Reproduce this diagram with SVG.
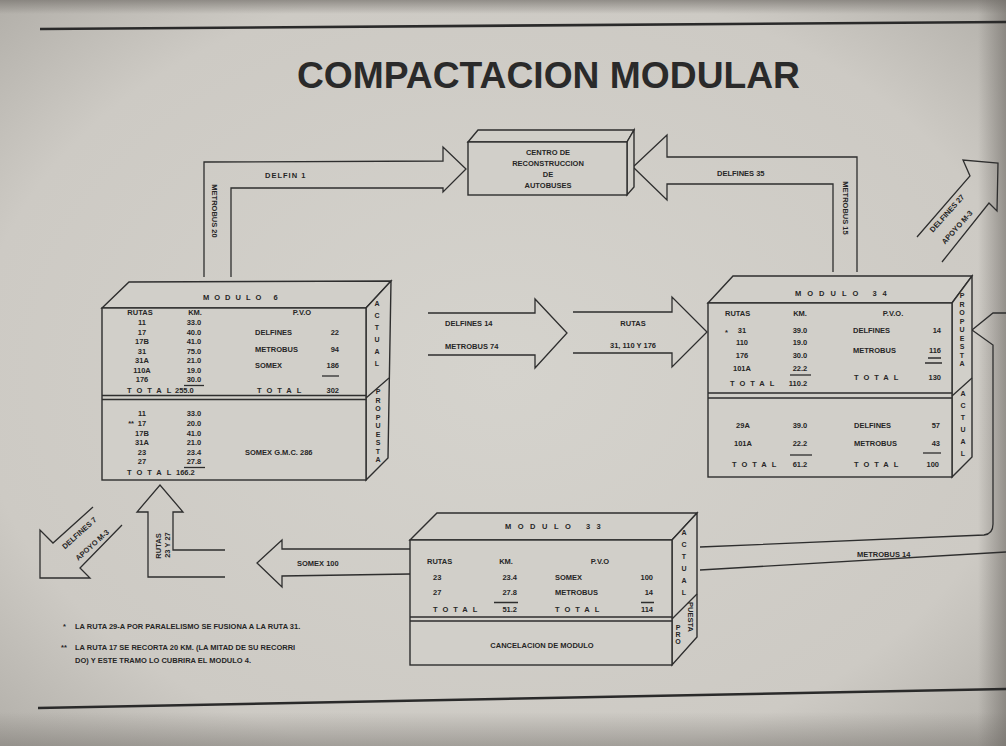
<svg xmlns="http://www.w3.org/2000/svg" width="1006" height="746" viewBox="0 0 1006 746">
<defs>
<radialGradient id="paper" cx="50%" cy="50%" r="70%">
<stop offset="0" stop-color="#d5d3cd"/>
<stop offset="0.75" stop-color="#cdcac4"/>
<stop offset="1" stop-color="#b3b0aa"/>
</radialGradient>
<linearGradient id="edgeR" x1="0" y1="0" x2="1" y2="0">
<stop offset="0" stop-color="#6f6b66" stop-opacity="0"/>
<stop offset="1" stop-color="#6f6b66" stop-opacity="0.6"/>
</linearGradient>
<linearGradient id="edgeT" x1="0" y1="0" x2="0" y2="1">
<stop offset="0" stop-color="#77736e" stop-opacity="0.7"/>
<stop offset="1" stop-color="#77736e" stop-opacity="0"/>
</linearGradient>
<linearGradient id="edgeB" x1="0" y1="0" x2="0" y2="1">
<stop offset="0" stop-color="#77736e" stop-opacity="0"/>
<stop offset="1" stop-color="#77736e" stop-opacity="0.5"/>
</linearGradient>
<style>
.ln{fill:none;stroke:#2e2e2e;stroke-width:1.3;stroke-linejoin:miter}
.face{fill:#d1cfc9;stroke:#2e2e2e;stroke-width:1.4;stroke-linejoin:miter}
.rule{fill:none;stroke:#2a2a2a;stroke-width:2.6}
.t{font-family:"Liberation Sans",Arial,sans-serif;font-size:7.5px;font-weight:bold;fill:#262626}
.s{font-family:"Liberation Sans",Arial,sans-serif;font-size:7px;font-weight:bold;fill:#262626;text-anchor:middle}
.m{text-anchor:middle}
.e{text-anchor:end}
.sp{letter-spacing:5px}
.ttl{font-family:"Liberation Sans",Arial,sans-serif;font-size:36px;font-weight:bold;fill:#2a2a2a}
</style>
</defs>
<rect x="0" y="0" width="1006" height="746" fill="url(#paper)"/>
<rect x="0" y="0" width="1006" height="14" fill="url(#edgeT)"/>
<rect x="0" y="712" width="1006" height="34" fill="url(#edgeB)"/>
<rect x="978" y="0" width="28" height="746" fill="url(#edgeR)"/>

<path class="rule" d="M40,29 L1006,22"/>
<path class="rule" d="M38,708 L1006,689"/>
<text class="ttl" x="297" y="88" textLength="503" lengthAdjust="spacingAndGlyphs">COMPACTACION MODULAR</text>

<g id="connectors">
<path class="ln" d="M204,277 L204,162 L443,161 L443,147 L466,169 L443,192 L443,188 L231,188 L231,277"/>
<text class="t" x="265" y="178" letter-spacing="1">DELFIN  1</text>
<text class="t m" transform="translate(212,211) rotate(90)">METROBUS  20</text>

<path class="ln" d="M833,272 L833,184 L667,184 L667,200 L633,167 L667,135 L667,157 L857,157 L857,272"/>
<text class="t" x="717" y="176">DELFINES  35</text>
<text class="t m" transform="translate(843,208) rotate(90)">METROBUS  15</text>

<path class="ln" d="M917,237 L970,176 L963,160 L998,163 L997,211 L989,203 L942,262"/>
<text class="t m" transform="translate(949,215) rotate(-48)" font-size="6.5">DELFINES  27</text>
<text class="t m" transform="translate(959,229) rotate(-48)" font-size="6.5">APOYO M-3</text>

<path class="ln" d="M428,313 L535,313 L535,299 L567,333 L535,368 L535,355 L428,355"/>
<text class="t" x="445" y="326">DELFINES  14</text>
<text class="t" x="445" y="349">METROBUS  74</text>

<path class="ln" d="M573,312 L672,312 L672,297 L707,332 L672,367 L672,353 L573,353"/>
<text class="t m" x="633" y="326">RUTAS</text>
<text class="t m" x="633" y="348">31,  110 Y 176</text>

<path class="ln" d="M225,550 L173,550 L173,512 L183,512 L160,485 L137,512 L148,512 L148,577 L225,577"/>
<text class="t m" transform="translate(161,546) rotate(-90)">RUTAS</text>
<text class="t m" transform="translate(170,545) rotate(-90)" font-size="6.5">23 Y 27</text>

<path class="ln" d="M93,507 L53,543 L40,530 L40,578 L90,578 L80,568 L122,525"/>
<text class="t m" transform="translate(81,535) rotate(-42)" font-size="6.5">DELFINES  7</text>
<text class="t m" transform="translate(94,547) rotate(-42)" font-size="6.5">APOYO M-3</text>

<path class="ln" d="M410,549 L282,549 L282,540 L257,563 L282,587 L282,576 L410,574"/>
<text class="t" x="297" y="566">SOMEX  100</text>

<path class="ln" d="M700,547 L984,535 Q993,534 993,524 L993,345 L972,330 L993,313 L1006,313"/>
<path class="ln" d="M700,570 L1006,552"/>
<text class="t" x="857" y="557" font-size="6.5">METROBUS  14</text>
</g>

<g id="node-centro">
<polygon class="face" points="468,142 478,130 634,130 627,142"/>
<polygon class="face" points="627,142 634,130 634,187 627,195"/>
<rect class="face" x="468" y="142" width="159" height="53"/>
<text class="t m" x="548" y="155" font-size="7">CENTRO DE</text>
<text class="t m" x="548" y="166" font-size="7">RECONSTRUCCION</text>
<text class="t m" x="548" y="177" font-size="7">DE</text>
<text class="t m" x="548" y="188" font-size="7">AUTOBUSES</text>
</g>

<g id="node-modulo6">
<polygon class="face" points="102,308 129,282 391,281 366,308"/>
<polygon class="face" points="366,308 391,281 388,458 366,480"/>
<rect class="face" x="102" y="308" width="264" height="172"/>
<path class="ln" d="M102,395.5 L366,395.5 M102,399.5 L366,399.5 M366,398 L389,378"/>
<text class="t sp" x="203" y="300">MODULO 6</text>
<text class="t m" x="140" y="315">RUTAS</text>
<text class="t m" x="195" y="315">KM.</text>
<text class="t m" x="302" y="315">P.V.O</text>
<text class="t m" x="142" y="325">11</text>
<text class="t m" x="142" y="334.5">17</text>
<text class="t m" x="142" y="344">17B</text>
<text class="t m" x="142" y="353.5">31</text>
<text class="t m" x="142" y="363">31A</text>
<text class="t m" x="142" y="372.5">110A</text>
<text class="t m" x="142" y="382">176</text>
<text class="t m" x="194" y="325">33.0</text>
<text class="t m" x="194" y="334.5">40.0</text>
<text class="t m" x="194" y="344">41.0</text>
<text class="t m" x="194" y="353.5">75.0</text>
<text class="t m" x="194" y="363">21.0</text>
<text class="t m" x="194" y="372.5">19.0</text>
<text class="t m" x="194" y="382">30.0</text>
<path class="ln" d="M184,385.5 L204,385.5"/>
<text class="t sp" x="127" y="393">TOTAL</text>
<text class="t" x="175" y="393">255.0</text>
<text class="t" x="255" y="335">DELFINES</text>
<text class="t e" x="339" y="335">22</text>
<text class="t" x="255" y="352">METROBUS</text>
<text class="t e" x="339" y="352">94</text>
<text class="t" x="255" y="368">SOMEX</text>
<text class="t e" x="339" y="368">186</text>
<path class="ln" d="M322,376 L339,376"/>
<text class="t sp" x="257" y="393">TOTAL</text>
<text class="t e" x="339" y="393">302</text>
<text class="s" x="377" y="306">A</text>
<text class="s" x="377" y="318">C</text>
<text class="s" x="377" y="330">T</text>
<text class="s" x="377" y="342">U</text>
<text class="s" x="377" y="354">A</text>
<text class="s" x="377" y="366">L</text>
<text class="s" x="378" y="394">P</text>
<text class="s" x="378" y="402.5">R</text>
<text class="s" x="378" y="411">O</text>
<text class="s" x="378" y="419.5">P</text>
<text class="s" x="378" y="428">U</text>
<text class="s" x="378" y="436.5">E</text>
<text class="s" x="378" y="445">S</text>
<text class="s" x="378" y="453.5">T</text>
<text class="s" x="378" y="462">A</text>
<text class="t m" x="142" y="416">11</text>
<text class="t e" x="134" y="426">**</text>
<text class="t m" x="142" y="426">17</text>
<text class="t m" x="142" y="435.5">17B</text>
<text class="t m" x="142" y="445">31A</text>
<text class="t m" x="142" y="455">23</text>
<text class="t m" x="142" y="464">27</text>
<text class="t m" x="194" y="416">33.0</text>
<text class="t m" x="194" y="426">20.0</text>
<text class="t m" x="194" y="435.5">41.0</text>
<text class="t m" x="194" y="445">21.0</text>
<text class="t m" x="194" y="455">23.4</text>
<text class="t m" x="194" y="464">27.8</text>
<path class="ln" d="M184,467.5 L205,467.5"/>
<text class="t sp" x="127" y="475">TOTAL</text>
<text class="t" x="176" y="475">166.2</text>
<text class="t" x="245" y="455">SOMEX G.M.C.  286</text>
</g>

<g id="node-modulo34">
<polygon class="face" points="708,303 733,276 972,276 952,303"/>
<polygon class="face" points="952,303 972,276 972,457 952,477"/>
<rect class="face" x="708" y="303" width="244" height="174"/>
<path class="ln" d="M708,393 L952,393 M708,398 L952,398 M952,396 L972,378"/>
<text class="t" x="795" y="296" letter-spacing="6">MODULO 34</text>
<text class="t" x="725" y="316">RUTAS</text>
<text class="t m" x="800" y="316">KM.</text>
<text class="t m" x="893" y="316">P.V.O.</text>
<text class="t" x="725" y="335">*</text>
<text class="t m" x="742" y="333">31</text>
<text class="t m" x="742" y="345">110</text>
<text class="t m" x="742" y="358">176</text>
<text class="t m" x="742" y="371">101A</text>
<text class="t m" x="800" y="333">39.0</text>
<text class="t m" x="800" y="345">19.0</text>
<text class="t m" x="800" y="358">30.0</text>
<text class="t m" x="800" y="371">22.2</text>
<path class="ln" d="M790,375 L811,375"/>
<text class="t sp" x="730" y="386">TOTAL</text>
<text class="t m" x="798" y="386">110.2</text>
<text class="t" x="853" y="333">DELFINES</text>
<text class="t e" x="941" y="333">14</text>
<text class="t" x="853" y="353">METROBUS</text>
<text class="t e" x="941" y="353">116</text>
<path class="ln" d="M928,358 L941,358 M925,363 L942,363"/>
<text class="t sp" x="854" y="380">TOTAL</text>
<text class="t e" x="941" y="380">130</text>
<text class="s" x="962" y="298" font-size="6.5">P</text>
<text class="s" x="962" y="306.5" font-size="6.5">R</text>
<text class="s" x="962" y="315" font-size="6.5">O</text>
<text class="s" x="962" y="323.5" font-size="6.5">P</text>
<text class="s" x="962" y="332" font-size="6.5">U</text>
<text class="s" x="962" y="340.5" font-size="6.5">E</text>
<text class="s" x="962" y="349" font-size="6.5">S</text>
<text class="s" x="962" y="357.5" font-size="6.5">T</text>
<text class="s" x="962" y="366" font-size="6.5">A</text>
<text class="s" x="963" y="396">A</text>
<text class="s" x="963" y="408">C</text>
<text class="s" x="963" y="420">T</text>
<text class="s" x="963" y="432">U</text>
<text class="s" x="963" y="444">A</text>
<text class="s" x="963" y="456">L</text>
<text class="t m" x="743" y="428">29A</text>
<text class="t m" x="743" y="446">101A</text>
<text class="t m" x="800" y="428">39.0</text>
<text class="t m" x="800" y="446">22.2</text>
<path class="ln" d="M790,455 L812,455"/>
<text class="t sp" x="732" y="467">TOTAL</text>
<text class="t m" x="800" y="467">61.2</text>
<text class="t" x="854" y="428">DELFINES</text>
<text class="t e" x="940" y="428">57</text>
<text class="t" x="854" y="446">METROBUS</text>
<text class="t e" x="940" y="446">43</text>
<path class="ln" d="M923,453 L941,453"/>
<text class="t sp" x="854" y="467">TOTAL</text>
<text class="t e" x="939" y="467">100</text>
</g>

<g id="node-modulo33">
<polygon class="face" points="410,540 437,513 697,513 672,540"/>
<polygon class="face" points="672,540 697,513 697,637 672,665"/>
<rect class="face" x="410" y="540" width="262" height="125"/>
<path class="ln" d="M410,617 L672,617 M410,621 L672,621 M672,619 L697,594"/>
<text class="t" x="505" y="529" letter-spacing="6.5">MODULO 33</text>
<text class="t" x="427" y="564">RUTAS</text>
<text class="t m" x="506" y="564">KM.</text>
<text class="t m" x="600" y="564">P.V.O</text>
<text class="t" x="433" y="580">23</text>
<text class="t" x="433" y="595">27</text>
<text class="t e" x="517" y="580">23.4</text>
<text class="t e" x="517" y="595">27.8</text>
<path class="ln" d="M494,602.5 L518,602.5 M641,602.5 L654,602.5"/>
<text class="t" x="555" y="580">SOMEX</text>
<text class="t e" x="653" y="580">100</text>
<text class="t" x="555" y="595">METROBUS</text>
<text class="t e" x="653" y="595">14</text>
<text class="t sp" x="433" y="612">TOTAL</text>
<text class="t e" x="517" y="612">51.2</text>
<text class="t sp" x="555" y="612">TOTAL</text>
<text class="t e" x="653" y="612">114</text>
<text class="t m" x="542" y="648">CANCELACION DE MODULO</text>
<text class="s" x="684" y="535">A</text>
<text class="s" x="684" y="547">C</text>
<text class="s" x="684" y="559">T</text>
<text class="s" x="684" y="571">U</text>
<text class="s" x="684" y="583">A</text>
<text class="s" x="684" y="595">L</text>
<text class="s" x="678" y="630" font-size="5.5">P</text>
<text class="s" x="678" y="637" font-size="5.5">R</text>
<text class="s" x="678" y="644" font-size="5.5">O</text>
<text class="t m" transform="translate(688,617) rotate(90)" font-size="5.5">PUESTA</text>
</g>

<g id="footnotes">
<text class="t" x="63" y="629">*</text>
<text class="t" x="75" y="629">LA RUTA 29-A POR PARALELISMO SE FUSIONA A LA RUTA 31.</text>
<text class="t" x="61" y="650">**</text>
<text class="t" x="75" y="650">LA RUTA 17 SE RECORTA 20 KM. (LA MITAD DE SU RECORRI</text>
<text class="t" x="75" y="663">DO) Y ESTE TRAMO LO CUBRIRA EL MODULO 4.</text>
</g>
</svg>
